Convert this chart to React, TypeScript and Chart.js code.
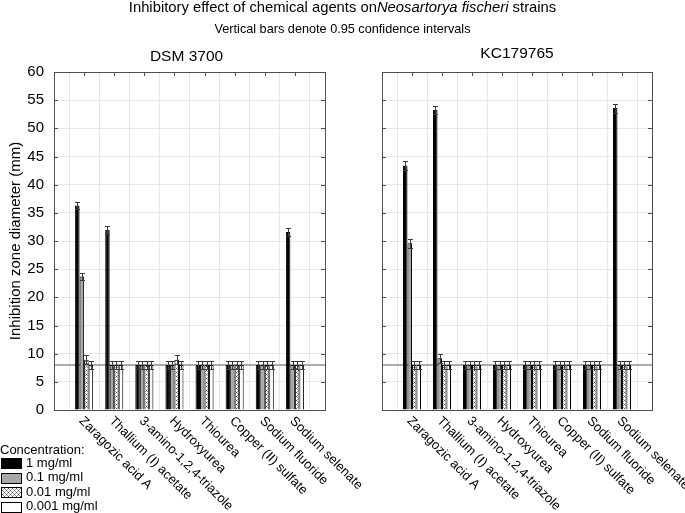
import React, { useEffect, useRef } from 'react';
import { Chart, registerables } from 'chart.js';
Chart.register(...registerables);

const FONT = '"Liberation Sans", Arial, sans-serif';

const agents = [
  'Zaragozic acid A',
  'Thallium (I) acetate',
  '3-amino-1,2,4-triazole',
  'Hydroxyurea',
  'Thiourea',
  'Copper (II) sulfate',
  'Sodium fluoride',
  'Sodium selenate',
];
const concentrations = ['1 mg/ml', '0.1 mg/ml', '0.01 mg/ml', '0.001 mg/ml'];
const panelTitles = ['DSM 3700', 'KC179765'];

// DSM 3700
const dsm1 = [36.3, 32.0, 8, 8, 8, 8, 8, 31.6];
const dsm01 = [23.7, 8, 8, 8, 8, 8, 8, 8];
const dsm001 = [8.9, 8, 8, 8.9, 8, 8, 8, 8];
const dsm0001 = [8, 8, 8, 8, 8, 8, 8, 8];
const dsmErr1 = [0.7, 0.7, 0.7, 0.7, 0.7, 0.7, 0.7, 0.7];
const dsmErr01 = [0.7, 0.7, 0.7, 0.7, 0.7, 0.7, 0.7, 0.7];
const dsmErr001 = [0.8, 0.7, 0.7, 0.8, 0.7, 0.7, 0.7, 0.7];
const dsmErr0001 = [0.7, 0.7, 0.7, 0.7, 0.7, 0.7, 0.7, 0.7];

// KC179765
const kc1 = [43.4, 53.3, 8, 8, 8, 8, 8, 53.6];
const kc01 = [29.6, 9.2, 8, 8, 8, 8, 8, 8];
const kc001 = [8, 8, 8, 8, 8, 8, 8, 8];
const kc0001 = [8, 8, 8, 8, 8, 8, 8, 8];
const kcErr1 = [0.8, 0.7, 0.7, 0.7, 0.7, 0.7, 0.7, 0.8];
const kcErr01 = [0.8, 0.8, 0.7, 0.7, 0.7, 0.7, 0.7, 0.7];
const kcErr001 = [0.7, 0.7, 0.7, 0.7, 0.7, 0.7, 0.7, 0.7];
const kcErr0001 = [0.7, 0.7, 0.7, 0.7, 0.7, 0.7, 0.7, 0.7];

const referenceValue = 8;
const yMin = 0;
const yMax = 60;
const yStep = 5;

function makePattern(): CanvasPattern | string {
  const c = document.createElement('canvas');
  c.width = 4;
  c.height = 4;
  const g = c.getContext('2d');
  if (!g) return '#ccc';
  g.fillStyle = '#ffffff';
  g.fillRect(0, 0, 4, 4);
  g.fillStyle = '#505050';
  g.fillRect(0, 0, 1, 1);
  g.fillRect(2, 2, 1, 1);
  g.fillStyle = '#9a9a9a';
  g.fillRect(1, 1, 1, 1);
  g.fillRect(3, 3, 1, 1);
  g.fillRect(3, 1, 1, 1);
  g.fillRect(1, 3, 1, 1);
  const p = g.createPattern(c, 'repeat');
  return p || '#ccc';
}

function pad<T>(arr: T[]): (T | null)[] {
  return [null, ...arr, null];
}

function buildChart(
  canvas: HTMLCanvasElement,
  panel: number,
  series: number[][],
  errors: number[][],
  isLeft: boolean
) {
  const pattern = makePattern();
  const fills: (string | CanvasPattern)[] = ['#000000', '#a8a8a8', pattern, '#ffffff'];
  const labels = ['', ...agents, ''];

  const plugin = {
    id: 'panelDecor' + panel,
    beforeDatasetsDraw(chart: any) {
      const { ctx, chartArea: a, scales } = chart;
      const y = Math.round(scales.y.getPixelForValue(referenceValue));
      ctx.save();
      ctx.strokeStyle = '#ababab';
      ctx.lineWidth = 2;
      ctx.beginPath();
      ctx.moveTo(a.left, y);
      ctx.lineTo(a.right, y);
      ctx.stroke();
      ctx.restore();
    },
    afterDraw(chart: any) {
      const { ctx, chartArea: a, scales } = chart;
      const xs = scales.x;
      const ys = scales.y;
      ctx.save();
      // error bars
      ctx.strokeStyle = '#3a3a3a';
      ctx.lineWidth = 1;
      series.forEach((vals, d) => {
        const meta = chart.getDatasetMeta(d);
        vals.forEach((v, i) => {
          const el = meta.data[i + 1];
          if (!el) return;
          const e = errors[d][i];
          const x = Math.round(el.x) + 0.5;
          const yt = Math.round(ys.getPixelForValue(v + e)) + 0.5;
          const yb = Math.round(ys.getPixelForValue(v - e)) + 0.5;
          const hw = 2.5;
          ctx.beginPath();
          ctx.moveTo(x, yt);
          ctx.lineTo(x, yb);
          ctx.moveTo(x - hw, yt);
          ctx.lineTo(x + hw, yt);
          ctx.moveTo(x - hw, yb);
          ctx.lineTo(x + hw, yb);
          ctx.stroke();
        });
      });
      // frame
      ctx.strokeStyle = '#505050';
      ctx.lineWidth = 1;
      ctx.strokeRect(Math.round(a.left) + 0.5, Math.round(a.top) + 0.5, Math.round(a.right - a.left), Math.round(a.bottom - a.top));
      // inward ticks
      ctx.beginPath();
      for (let i = 1; i <= agents.length; i++) {
        const x = Math.round(xs.getPixelForValue(i)) + 0.5;
        ctx.moveTo(x, a.top);
        ctx.lineTo(x, a.top + 4);
      }
      for (let v = yMin + yStep; v < yMax; v += yStep) {
        const y = Math.round(ys.getPixelForValue(v)) + 0.5;
        ctx.moveTo(a.left, y);
        ctx.lineTo(a.left + 4, y);
        ctx.moveTo(a.right, y);
        ctx.lineTo(a.right - 4, y);
      }
      ctx.stroke();
      // x labels rotated
      ctx.fillStyle = '#000';
      ctx.font = '13px ' + FONT;
      ctx.textAlign = 'left';
      ctx.textBaseline = 'middle';
      agents.forEach((name, i) => {
        const x = xs.getPixelForValue(i + 1);
        ctx.save();
        ctx.translate(x - 3, a.bottom + 9);
        ctx.rotate(Math.PI / 4);
        ctx.fillText(name, 0, 0);
        ctx.restore();
      });
      // panel title
      ctx.font = '15.5px ' + FONT;
      ctx.textAlign = 'center';
      ctx.textBaseline = 'middle';
      ctx.fillText(panelTitles[panel], (a.left + a.right) / 2 - (panel === 0 ? 3 : 0), panel === 0 ? 57 : 54);

      if (isLeft) {
        // main title
        const t1 = 'Inhibitory effect of chemical agents on';
        const t2 = 'Neosartorya fischeri';
        const t3 = ' strains';
        const fs = '14.8px ';
        ctx.font = fs + FONT;
        const w1 = ctx.measureText(t1).width;
        const w3 = ctx.measureText(t3).width;
        ctx.font = 'italic ' + fs + FONT;
        const w2 = ctx.measureText(t2).width;
        const total = w1 + w2 + w3;
        let sx = 685 / 2 - total / 2;
        ctx.textAlign = 'left';
        ctx.font = fs + FONT;
        ctx.fillText(t1, sx, 8);
        ctx.font = 'italic ' + fs + FONT;
        ctx.fillText(t2, sx + w1, 8);
        ctx.font = fs + FONT;
        ctx.fillText(t3, sx + w1 + w2, 8);
        ctx.font = '12.7px ' + FONT;
        ctx.textAlign = 'center';
        ctx.fillText('Vertical bars denote 0.95 confidence intervals', 685 / 2, 29);
        // legend
        ctx.textAlign = 'left';
        ctx.font = '13px ' + FONT;
        ctx.fillText('Concentration:', 0, 450);
        concentrations.forEach((c, i) => {
          const cy = 463 + i * 14.5;
          ctx.fillStyle = fills[i] as any;
          ctx.fillRect(1, Math.round(cy - 5), 20, 10);
          ctx.strokeStyle = '#000';
          ctx.strokeRect(1.5, Math.round(cy - 5) + 0.5, 20, 10);
          ctx.fillStyle = '#000';
          ctx.fillText(c, 26, cy);
        });
      }
      ctx.restore();
    },
  };

  return new Chart(canvas, {
    type: 'bar',
    data: {
      labels,
      datasets: series.map((vals, d) => ({
        label: concentrations[d],
        data: pad(vals),
        backgroundColor: fills[d] as any,
        borderColor: '#000000',
        borderWidth: 1,
        categoryPercentage: 0.6,
        barPercentage: 1,
      })),
    },
    options: {
      responsive: false,
      animation: false,
      layout: {
        padding: isLeft
          ? { left: 0, top: 72, right: 360, bottom: 0 }
          : { left: 0, top: 72, right: 33, bottom: 0 },
      },
      plugins: {
        legend: { display: false },
        title: { display: false },
        tooltip: { enabled: false },
      },
      scales: {
        x: {
          type: 'category',
          offset: false,
          ticks: { display: false },
          grid: { color: '#e6e6e6', drawTicks: false },
          border: { display: false },
          afterFit: (s: any) => {
            s.height = 103;
          },
        },
        y: {
          min: yMin,
          max: yMax,
          ticks: {
            display: isLeft,
            stepSize: yStep,
            color: '#000',
            padding: 10,
            font: { size: 15, family: FONT },
          },
          grid: { color: '#e6e6e6', drawTicks: false },
          border: { display: false },
          title: {
            display: isLeft,
            text: 'Inhibition zone diameter (mm)',
            color: '#000',
            font: { size: 15, family: FONT },
            padding: { top: 7, bottom: 0 },
          },
          afterFit: (s: any) => {
            s.width = isLeft ? 54 : 382;
          },
        },
      },
    },
    plugins: [plugin],
  } as any);
}

export default function App() {
  const leftRef = useRef<HTMLCanvasElement>(null);
  const rightRef = useRef<HTMLCanvasElement>(null);

  useEffect(() => {
    Chart.defaults.font.family = FONT;
    const c1 = buildChart(
      leftRef.current!,
      0,
      [dsm1, dsm01, dsm001, dsm0001],
      [dsmErr1, dsmErr01, dsmErr001, dsmErr0001],
      true
    );
    const c2 = buildChart(
      rightRef.current!,
      1,
      [kc1, kc01, kc001, kc0001],
      [kcErr1, kcErr01, kcErr001, kcErr0001],
      false
    );
    return () => {
      c1.destroy();
      c2.destroy();
    };
  }, []);

  const cs: React.CSSProperties = { position: 'absolute', left: 0, top: 0, width: 685, height: 513, display: 'block' };
  return (
    <div style={{ position: 'absolute', left: 0, top: 0, width: 685, height: 513, background: '#fff', overflow: 'hidden' }}>
      <canvas ref={leftRef} width={685} height={513} style={cs} />
      <canvas ref={rightRef} width={685} height={513} style={cs} />
    </div>
  );
}
